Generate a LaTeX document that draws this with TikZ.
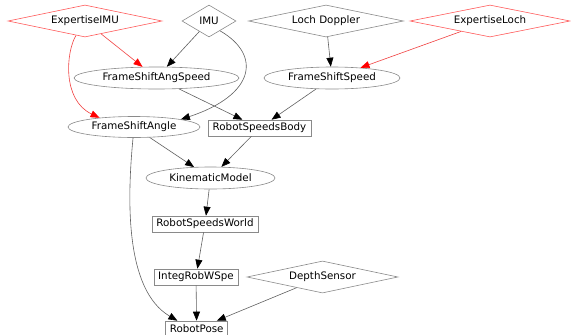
\documentclass[tikz,border=0pt]{standalone}
\usepackage{fontspec}
\setmainfont{DejaVu Sans}
\usetikzlibrary{shapes.geometric,arrows.meta}
\definecolor{bordergray}{HTML}{8A8A8A}
\definecolor{edgegray}{HTML}{606060}
\definecolor{expred}{HTML}{FF5A5A}
\definecolor{edgered}{HTML}{F04040}
\tikzset{
  every node/.style={font=\fontsize{10.3}{12}\selectfont, inner sep=0pt, line width=0.6pt},
  src/.style={draw=bordergray, shape=diamond, aspect=5, minimum height=32pt},
  expert/.style={draw=expred, shape=diamond, aspect=5, minimum height=32pt},
  proc/.style={draw=bordergray, shape=ellipse},
  datum/.style={draw=bordergray, shape=rectangle, minimum height=16pt},
  flow/.style={draw=edgegray, line width=0.6pt, -{Triangle[length=9pt,width=7pt,black]}},
  expflow/.style={draw=edgered, line width=0.6pt, -{Triangle[length=9pt,width=7pt,red]}},
}
\begin{document}
\begin{tikzpicture}[x=1pt,y=-1pt]
\useasboundingbox (0,0) rectangle (571,335);

% sensors and expertise
\node[expert, minimum width=154pt] (eimu)  at (85,21)  {ExpertiseIMU};
\node[src,    minimum width=54pt, aspect=1.7]  (imu)   at (209,21) {IMU};
\node[src,    minimum width=155pt] (loch)  at (326,21) {Loch Doppler};
\node[expert, minimum width=160pt] (eloch) at (490,21) {ExpertiseLoch};
\node[src,    minimum width=151pt] (depth) at (322.5,277) {DepthSensor};

% processing steps
\node[proc, minimum width=165pt, minimum height=22pt] (fsas) at (156.5,78) {FrameShiftAngSpeed};
\node[proc, minimum width=136pt, minimum height=22pt] (fss)  at (332,78)   {FrameShiftSpeed};
\node[proc, minimum width=132pt, minimum height=21pt] (fsa)  at (134,127)  {FrameShiftAngle};
\node[proc, minimum width=129pt, minimum height=22pt] (km)   at (210.5,178) {KinematicModel};

% data
\node[datum, minimum width=103pt] (rsb) at (259.5,128) {RobotSpeedsBody};
\node[datum, minimum width=106pt] (rsw) at (205,224)   {RobotSpeedsWorld};
\node[datum, minimum width=84pt]  (irw) at (196,277)   {IntegRobWSpe};
\node[datum, minimum width=62pt]  (rp)  at (196.7,329) {RobotPose};

% expertise links
\draw[expflow] (eimu) -- (fsas);
\draw[expflow] ([xshift=-9pt,yshift=1.9pt]eimu.south) .. controls (66,52) and (62,100) .. (fsa.165);
\draw[expflow] (eloch) -- (fss);

% measurement links
\draw[flow] (imu) -- (fsas);
\draw[flow] ([xshift=11pt,yshift=6.5pt]imu.south) .. controls (262,55) and (255,95) .. (fsa.north east);
\draw[flow] (loch) -- (fss);
\draw[flow] (fsas) -- (rsb);
\draw[flow] (fss) -- (rsb);
\draw[flow] (fsa) -- (km);
\draw[flow] (rsb) -- (km);
\draw[flow] (km) -- (rsw);
\draw[flow] (rsw) -- (irw);
\draw[flow] (irw) -- (rp);
\draw[flow] (depth) -- (rp);
\draw[flow] (fsa.265) .. controls (127,200) and (125,290) .. ([xshift=12pt]rp.north west);
\end{tikzpicture}
\end{document}
